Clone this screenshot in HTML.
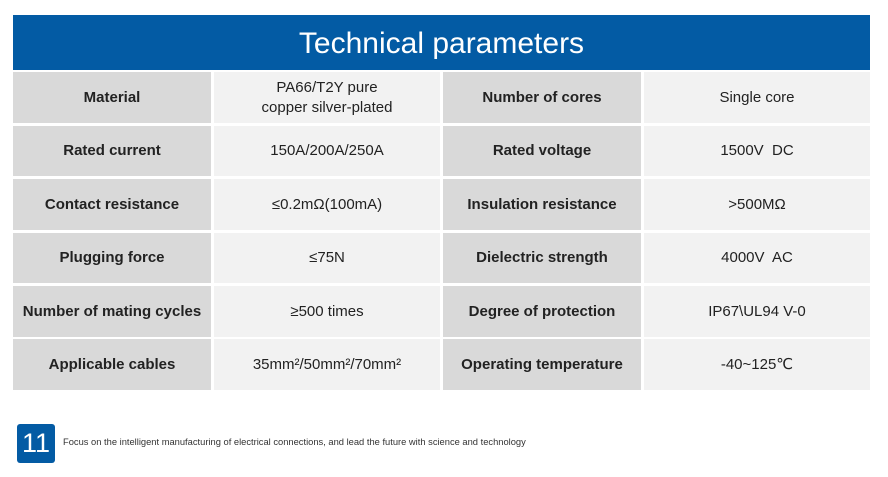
<!DOCTYPE html>
<html><head><style>
body{margin:0;width:888px;height:477px;background:#fff;position:relative;overflow:hidden;font-family:"Liberation Sans","DejaVu Sans",sans-serif;}
.h{position:absolute;left:13px;top:15px;width:857px;height:55px;background:#035ba4;color:#fff;font-size:30px;text-align:center;line-height:57px;}
.c{position:absolute;display:flex;align-items:center;justify-content:center;text-align:center;font-size:15px;color:#222;line-height:20px;}
.l{background:#d9d9d9;font-weight:bold;}
.v{background:#f2f2f2;}
.n{position:absolute;left:17px;top:424px;width:38px;height:39px;background:#035ba4;border-radius:3px;color:#fff;font-size:27px;text-align:center;line-height:39px;}
.f{position:absolute;left:63px;top:437px;font-size:9.35px;color:#333;}
</style></head><body>
<div class="h">Technical parameters</div>
<div class="c l" style="left:13px;top:72px;width:198px;height:51px">Material</div>
<div class="c v" style="left:214px;top:72px;width:226px;height:51px">PA66/T2Y pure<br>copper silver-plated</div>
<div class="c l" style="left:443px;top:72px;width:198px;height:51px">Number of cores</div>
<div class="c v" style="left:644px;top:72px;width:226px;height:51px">Single core</div>

<div class="c l" style="left:13px;top:126px;width:198px;height:50px">Rated current</div>
<div class="c v" style="left:214px;top:126px;width:226px;height:50px">150A/200A/250A</div>
<div class="c l" style="left:443px;top:126px;width:198px;height:50px">Rated voltage</div>
<div class="c v" style="left:644px;top:126px;width:226px;height:50px">1500V&nbsp; DC</div>

<div class="c l" style="left:13px;top:179px;width:198px;height:51px">Contact resistance</div>
<div class="c v" style="left:214px;top:179px;width:226px;height:51px">≤0.2mΩ(100mA)</div>
<div class="c l" style="left:443px;top:179px;width:198px;height:51px">Insulation resistance</div>
<div class="c v" style="left:644px;top:179px;width:226px;height:51px">&gt;500MΩ</div>

<div class="c l" style="left:13px;top:233px;width:198px;height:50px">Plugging force</div>
<div class="c v" style="left:214px;top:233px;width:226px;height:50px">≤75N</div>
<div class="c l" style="left:443px;top:233px;width:198px;height:50px">Dielectric strength</div>
<div class="c v" style="left:644px;top:233px;width:226px;height:50px">4000V&nbsp; AC</div>

<div class="c l" style="left:13px;top:286px;width:198px;height:51px">Number of mating cycles</div>
<div class="c v" style="left:214px;top:286px;width:226px;height:51px">≥500 times</div>
<div class="c l" style="left:443px;top:286px;width:198px;height:51px">Degree of protection</div>
<div class="c v" style="left:644px;top:286px;width:226px;height:51px">IP67\UL94 V-0</div>

<div class="c l" style="left:13px;top:339px;width:198px;height:51px">Applicable cables</div>
<div class="c v" style="left:214px;top:339px;width:226px;height:51px">35mm²/50mm²/70mm²</div>
<div class="c l" style="left:443px;top:339px;width:198px;height:51px">Operating temperature</div>
<div class="c v" style="left:644px;top:339px;width:226px;height:51px">-40~125℃</div>

<div class="n">11</div>
<div class="f">Focus on the intelligent manufacturing of electrical connections, and lead the future with science and technology</div>
</body></html>
